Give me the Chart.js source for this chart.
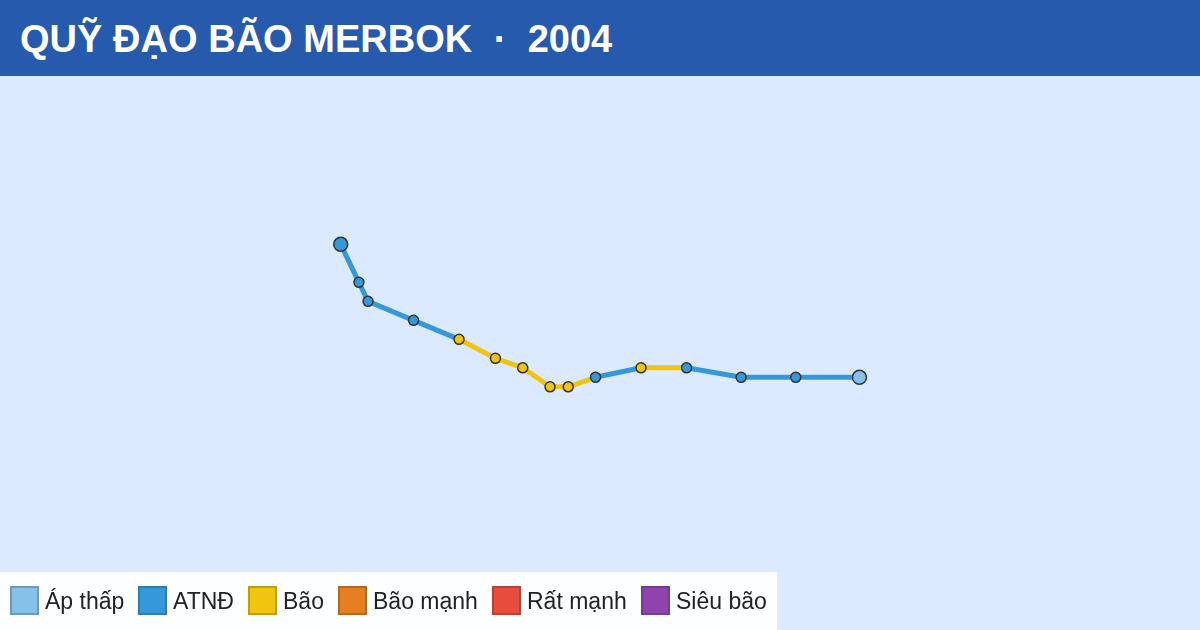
<!DOCTYPE html>
<html lang="vi">
<head>
<meta charset="utf-8">
<title>Quỹ đạo bão Merbok 2004</title>
<script src="https://cdn.jsdelivr.net/npm/chart.js@4"></script>
<style>
  html, body { margin: 0; padding: 0; width: 1200px; height: 630px; overflow: hidden; background: #dbeafe; font-family: "Liberation Sans", Arial, sans-serif; }
  #header { position: absolute; left: 0; top: 0; width: 1200px; height: 76px; background: #265aad; color: #fff; font-size: 38px; font-weight: bold; line-height: 78px; white-space: pre; text-indent: 20px; word-spacing: 0.15px; }
  #chartBox { position: absolute; left: 0; top: 76px; width: 1200px; height: 554px; }
  #legend { position: absolute; left: 0; top: 572px; height: 58px; width: 777px; background: rgba(255,255,255,0.93); }
  .item { position: absolute; top: 0; height: 58px; line-height: 59px; font-size: 23px; color: #222; white-space: nowrap; }
  .swatch { position: absolute; left: 0; top: 14px; width: 25px; height: 25px; border: 2px solid rgba(40,40,40,0.25); }
  .item span { margin-left: 35px; }
</style>
</head>
<body>
<div id="header">QUỸ ĐẠO BÃO MERBOK  ·  2004</div>
<div id="chartBox"><canvas id="trackChart" width="1200" height="554"></canvas></div>
<div id="legend"></div>
<script>
// storm track, oldest point first (east to west)
var lons = [132.5, 129, 126, 123, 120.5, 118, 116.5, 115.5, 114, 112.5, 110.5, 108, 105.5, 105, 104];
var lats = [14, 14, 14, 14.5, 14.5, 14, 13.5, 13.5, 14.5, 15, 16, 17, 18, 19, 21];
var levels = [0, 1, 1, 1, 2, 1, 2, 2, 2, 2, 2, 1, 1, 1, 1];

var levelNames = ["Áp thấp", "ATNĐ", "Bão", "Bão mạnh", "Rất mạnh", "Siêu bão"];
var levelColors = ["#85c1e9", "#3498db", "#f1c40f", "#e67e22", "#e74c3c", "#8e44ad"];
var legendLefts = [10, 138, 248, 338, 492, 641];

var points = lons.map(function (lon, i) {
  return { x: lon, y: lats[i] };
});

new Chart("trackChart", {
  type: "scatter",
  data: {
    datasets: [
      {
        data: points,
        showLine: true,
        borderWidth: 5,
        tension: 0,
        segment: {
          borderColor: function (ctx) {
            return levelColors[levels[ctx.p1DataIndex]];
          },
        },
        pointBackgroundColor: levels.map(function (l) {
          return levelColors[l];
        }),
        pointBorderColor: "#333",
        pointBorderWidth: 1.5,
        pointRadius: lons.map(function (lon, i) {
          return i === 0 || i === lons.length - 1 ? 7 : 5;
        }),
      },
    ],
  },
  options: {
    responsive: false,
    animation: false,
    devicePixelRatio: 1,
    layout: { padding: 0, autoPadding: false },
    plugins: {
      legend: { display: false },
      title: { display: false },
      tooltip: { enabled: false },
    },
    scales: {
      x: { type: "linear", display: false, min: 85.28, max: 151.21 },
      y: { type: "linear", display: false, min: 0.70, max: 29.86 },
    },
  },
});

var legend = document.getElementById("legend");
levelNames.forEach(function (name, i) {
  var item = document.createElement("div");
  item.className = "item";
  item.style.left = legendLefts[i] + "px";
  var swatch = document.createElement("div");
  swatch.className = "swatch";
  swatch.style.background = levelColors[i];
  var label = document.createElement("span");
  label.textContent = name;
  item.appendChild(swatch);
  item.appendChild(label);
  legend.appendChild(item);
});
</script>
</body>
</html>
